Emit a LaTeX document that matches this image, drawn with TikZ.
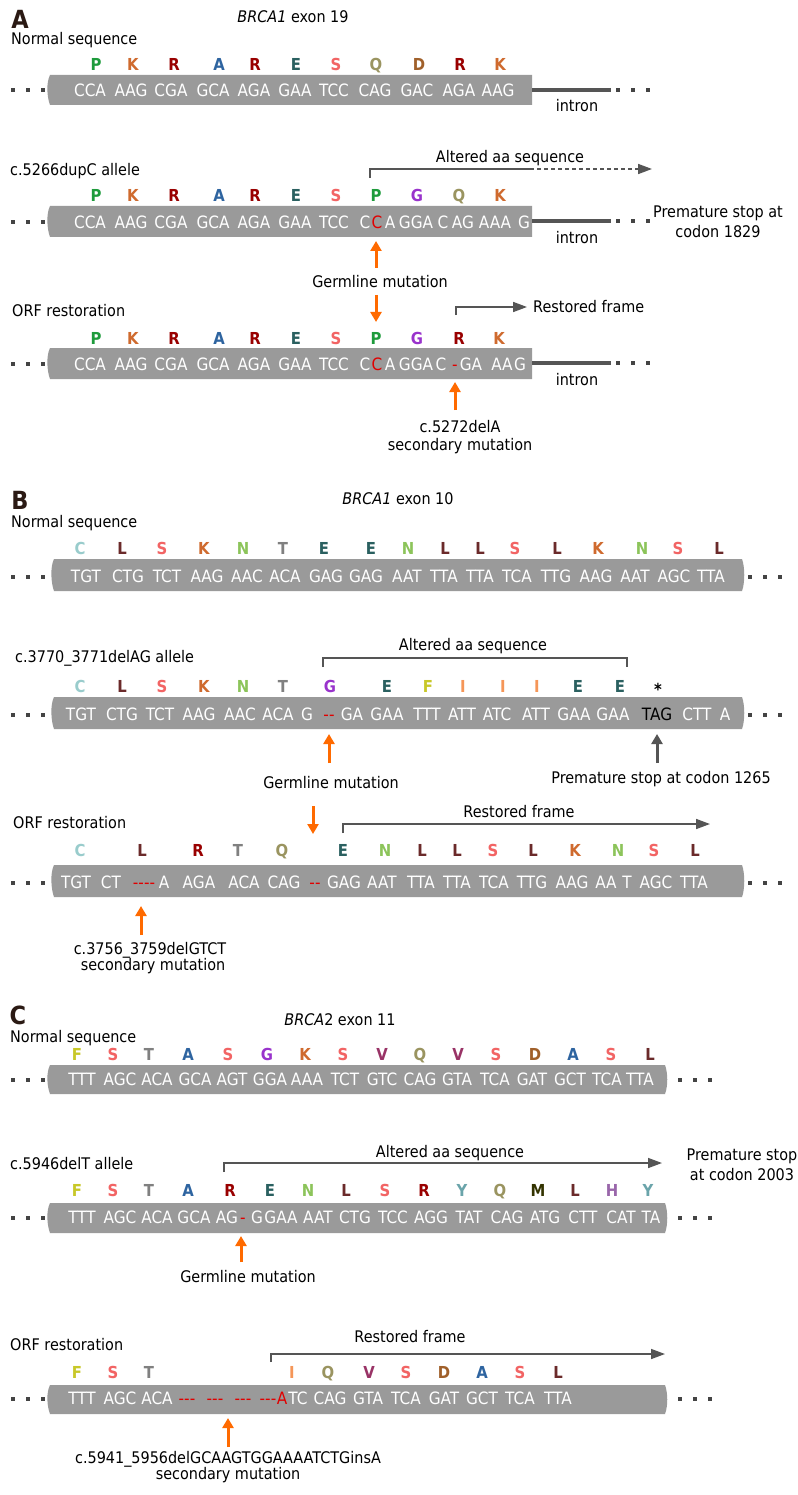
\documentclass[tikz,border=0pt]{standalone}
\usepackage{fontspec}
\setmainfont[FakeStretch=0.9]{DejaVu Sans}
\usetikzlibrary{arrows.meta}
\definecolor{cP}{HTML}{1E9B3C}
\definecolor{cK}{HTML}{CF6A2E}
\definecolor{cR}{HTML}{990000}
\definecolor{cA}{HTML}{2E64A0}
\definecolor{cE}{HTML}{2A6060}
\definecolor{cS}{HTML}{F26464}
\definecolor{cQ}{HTML}{9A9460}
\definecolor{cD}{HTML}{A0602A}
\definecolor{cG}{HTML}{9933CC}
\definecolor{cC}{HTML}{99CCCC}
\definecolor{cL}{HTML}{6B2A2A}
\definecolor{cN}{HTML}{8CC45A}
\definecolor{cT}{HTML}{808080}
\definecolor{cF}{HTML}{C8C828}
\definecolor{cI}{HTML}{F59658}
\definecolor{cV}{HTML}{993366}
\definecolor{cY}{HTML}{6AA4AA}
\definecolor{cM}{HTML}{333300}
\definecolor{cH}{HTML}{9966AA}
\definecolor{barc}{HTML}{9A9A9A}
\definecolor{darkg}{HTML}{555555}
\definecolor{org}{HTML}{FF6A00}
\definecolor{redm}{HTML}{E00000}
\definecolor{lbl}{HTML}{2B1A14}
\newcommand\seqbar[4]{\fill[barc] (#1,#3) -- (#2,#3) -- (#2,#4) -- (#1,#4) .. controls (#1-3,#4-8) and (#1-4,#3+8) .. (#1,#3) -- cycle;}
\newcommand\seqbarw[4]{\fill[barc] (#1,#3) -- (#2,#3) .. controls (#2+3,#3+8) and (#2+3,#4-8) .. (#2,#4) -- (#1,#4) .. controls (#1-3,#4-8) and (#1-4,#3+8) .. (#1,#3) -- cycle;}
\newcommand\tdots[2]{\foreach \d in {0,15,30} {\fill[darkg!80!black] (#1+\d-1.6,#2-1.6) rectangle +(3.2,3.2);}}
\tikzset{
  aalab/.style={font=\bfseries\fontsize{16.5}{16.5}\selectfont, inner sep=0pt, anchor=base, yshift=-6pt},
  cod/.style={text=white, font=\fontsize{17}{17}\selectfont, inner sep=0pt, anchor=base, yshift=-6.2pt},
  codr/.style={cod, text=redm},
  lab/.style={text=black, font=\fontsize{16}{16}\selectfont, inner sep=0pt, anchor=base, yshift=-5.8pt},
  labl/.style={lab, anchor=base west},
  panel/.style={text=lbl, font=\bfseries\fontsize{25}{25}\selectfont, inner sep=0pt},
  intron/.style={darkg, line width=4pt},
  brk/.style={darkg, line width=1.6pt},
  brka/.style={brk, -{Triangle[width=10pt,length=14pt]}},
  oarr/.style={org, line width=3pt, -{Triangle[width=11pt,length=10pt]}},
  garr/.style={darkg, line width=3pt, -{Triangle[width=11pt,length=10pt]}},
}
\begin{document}
\begin{tikzpicture}[x=1pt,y=-1pt]
\useasboundingbox (0,0) rectangle (797,1495);
\fill[white] (0,0) rectangle (797,1495);
%%%%%%%%%%%%%%%% PANEL A
\node[panel] (pA) at (20,19) {A};
\node[lab] (tA) at (293,17) {\textit{BRCA1} exon 19};
% row 1
\node[labl] (nA1) at (11,39) {Normal sequence};
\tdots{13}{90}
\seqbar{50}{532}{75}{105}
\coordinate (iA1s) at (532,90); \coordinate (iA1e) at (611,90);
\draw[intron] (iA1s) -- (iA1e);
\tdots{618}{90}
\node[lab] (inA1) at (577,106) {intron};
\foreach \x/\l [count=\i] in {96/P,133/K,174/R,219/A,255/R,296/E,336/S,376/Q,419/D,460/R,500/K}
  \node[aalab,text=c\l] (aA1\i) at (\x,65) {\l};
\foreach \x/\t [count=\i] in {90/CCA,131/AAG,171/CGA,213/GCA,254/AGA,295/GAA,334/TCC,375/CAG,417/GAC,459/AGA,498/AAG}
  \node[cod] (cA1\i) at (\x,90) {\t};
% row 2
\node[labl] (nA2) at (10,170) {c.5266dupC allele};
\node[lab] (altA) at (510,157) {Altered aa sequence};
\coordinate (bA2a) at (370,178); \coordinate (bA2b) at (370,169); \coordinate (bA2c) at (530,169); \coordinate (bA2d) at (652,169);
\draw[brk] (bA2a) -- (bA2b) -- (bA2c);
\draw[brka, dashed, dash pattern=on 4pt off 3pt] (bA2c) -- (bA2d);
\foreach \x/\l [count=\i] in {96/P,133/K,174/R,219/A,255/R,296/E,336/S,376/P,417/G,459/Q,500/K}
  \node[aalab,text=c\l] (aA2\i) at (\x,196) {\l};
\tdots{13}{222}
\seqbar{50}{532}{206}{237}
\foreach \x/\t [count=\i] in {90/CCA,131/AAG,171/CGA,213/GCA,254/AGA,295/GAA,334/TCC,365/C,390/A,416/GGA,443/C,463/AG,495/AAA,524/G}
  \node[cod] (cA2\i) at (\x,222) {\t};
\node[codr] (cA2r) at (377,222) {C};
\coordinate (iA2s) at (532,221); \coordinate (iA2e) at (611,221);
\draw[intron] (iA2s) -- (iA2e);
\tdots{618}{221}
\node[lab] (inA2) at (577,238) {intron};
\node[lab] (psA1) at (718,212) {Premature stop at};
\node[lab] (psA2) at (718,232) {codon 1829};
\node[lab] (gmA) at (380,282) {Germline mutation};
\coordinate (oA1s) at (376,268); \coordinate (oA1e) at (376,241);
\draw[oarr] (oA1s) -- (oA1e);
% row 3
\coordinate (oA2s) at (376,295); \coordinate (oA2e) at (376,322);
\draw[oarr] (oA2s) -- (oA2e);
\node[labl] (nA3) at (12,311) {ORF restoration};
\coordinate (bA3a) at (456,315); \coordinate (bA3b) at (456,307); \coordinate (bA3c) at (527,307);
\draw[brka] (bA3a) -- (bA3b) -- (bA3c);
\node[labl] (rfA) at (533,307) {Restored frame};
\foreach \x/\l [count=\i] in {96/P,133/K,174/R,219/A,255/R,296/E,336/S,376/P,417/G,459/R,499/K}
  \node[aalab,text=c\l] (aA3\i) at (\x,338) {\l};
\tdots{13}{364}
\seqbar{50}{532}{348}{379}
\foreach \x/\t [count=\i] in {90/CCA,131/AAG,171/CGA,213/GCA,254/AGA,295/GAA,334/TCC,365/C,390/A,416/GGA,441/C,471/GA,502/AA,520/G}
  \node[cod] (cA3\i) at (\x,364) {\t};
\node[codr] (cA3r) at (377,364) {C};
\node[codr] (cA3d) at (455,364) {-};
\coordinate (iA3s) at (532,363); \coordinate (iA3e) at (611,363);
\draw[intron] (iA3s) -- (iA3e);
\tdots{618}{363}
\node[lab] (inA3) at (577,380) {intron};
\coordinate (oA3s) at (455,410); \coordinate (oA3e) at (455,382);
\draw[oarr] (oA3s) -- (oA3e);
\node[lab] (smA1) at (460,427) {c.5272delA};
\node[lab] (smA2) at (460,445) {secondary mutation};
%%%%%%%%%%%%%%%% PANEL B
\node[panel] (pB) at (20,500) {B};
\node[lab] (tB) at (398,499) {\textit{BRCA1} exon 10};
\node[labl] (nB1) at (11,522) {Normal sequence};
\foreach \x/\l [count=\i] in {80/C,122/L,162/S,204/K,243/N,283/T,324/E,371/E,408/N,445/L,480/L,515/S,557/L,598/K,642/N,678/S,719/L}
  \node[aalab,text=c\l] (aB1\i) at (\x,548) {\l};
\tdots{13}{577}
\seqbarw{54}{742}{559}{591}
\tdots{750}{577}
\foreach \x/\t [count=\i] in {86/TGT,128/CTG,167/TCT,207/AAG,247/AAC,285/ACA,326/GAG,366/GAG,407/AAT,444/TTA,480/TTA,517/TCA,556/TTG,596/AAG,635/AAT,674/AGC,711/TTA}
  \node[cod] (cB1\i) at (\x,576) {\t};
% row 2
\node[labl] (nB2) at (15,657) {c.3770\_3771delAG allele};
\node[lab] (altB) at (473,645) {Altered aa sequence};
\coordinate (bB2a) at (323,667); \coordinate (bB2b) at (323,658); \coordinate (bB2c) at (627,658); \coordinate (bB2d) at (627,667);
\draw[brk] (bB2a) -- (bB2b) -- (bB2c) -- (bB2d);
\foreach \x/\l [count=\i] in {80/C,122/L,162/S,204/K,243/N,283/T,330/G,387/E,428/F,463/I,503/I,537/I,578/E,620/E}
  \node[aalab,text=c\l] (aB2\i) at (\x,686) {\l};
\node[aalab,text=black] (aB2s) at (658,689) {*};
\tdots{13}{715}
\seqbarw{54}{742}{697}{729}
\tdots{750}{715}
\foreach \x/\t [count=\i] in {81/TGT,122/CTG,160/TCT,199/AAG,240/AAC,278/ACA,307/G,352/GA,387/GAA,427/TTT,462/ATT,497/ATC,536/ATT,574/GAA,613/GAA,697/CTT,725/A}
  \node[cod] (cB2\i) at (\x,714) {\t};
\node[codr] (cB2r) at (329,714) {-{}-};
\node[cod,text=black] (cB2s) at (657,714) {TAG};
\coordinate (oB1s) at (329,763); \coordinate (oB1e) at (329,734);
\draw[oarr] (oB1s) -- (oB1e);
\node[lab] (gmB) at (331,783) {Germline mutation};
\coordinate (gB1s) at (657,763); \coordinate (gB1e) at (657,734);
\draw[garr] (gB1s) -- (gB1e);
\node[lab] (psB) at (661,778) {Premature stop at codon 1265};
% row 3
\coordinate (oB2s) at (313,806); \coordinate (oB2e) at (313,834);
\draw[oarr] (oB2s) -- (oB2e);
\node[labl] (nB3) at (13,823) {ORF restoration};
\node[lab] (rfB) at (519,812) {Restored frame};
\coordinate (bB3a) at (343,833); \coordinate (bB3b) at (343,824); \coordinate (bB3c) at (710,824);
\draw[brka] (bB3a) -- (bB3b) -- (bB3c);
\foreach \x/\l [count=\i] in {80/C,142/L,198/R,238/T,282/Q,343/E,385/N,422/L,457/L,493/S,533/L,575/K,618/N,654/S,695/L}
  \node[aalab,text=c\l] (aB3\i) at (\x,850) {\l};
\tdots{13}{883}
\seqbarw{54}{742}{865}{897}
\tdots{750}{883}
\foreach \x/\t [count=\i] in {76/TGT,111/CT,164/A,199/AGA,244/ACA,284/CAG,344/GAG,382/AAT,421/TTA,457/TTA,494/TCA,532/TTG,572/AAG,606/AA,627/T,656/AGC,694/TTA}
  \node[cod] (cB3\i) at (\x,882) {\t};
\node[codr] (cB3r1) at (144,882) {-{}-{}-{}-};
\node[codr] (cB3r2) at (315,882) {-{}-};
\coordinate (oB3s) at (141,935); \coordinate (oB3e) at (141,906);
\draw[oarr] (oB3s) -- (oB3e);
\node[lab] (smB1) at (150,949) {c.3756\_3759delGTCT};
\node[lab] (smB2) at (153,965) {secondary mutation};
%%%%%%%%%%%%%%%% PANEL C
\node[panel] (pC) at (18,1015) {C};
\node[lab] (tC) at (340,1020) {\textit{BRCA}2 exon 11};
\node[labl] (nC1) at (10,1037) {Normal sequence};
\foreach \x/\l [count=\i] in {77/F,113/S,149/T,188/A,228/S,267/G,305/K,343/S,382/V,420/Q,458/V,496/S,535/D,573/A,611/S,650/L}
  \node[aalab,text=c\l] (aC1\i) at (\x,1054) {\l};
\tdots{13}{1080}
\seqbarw{50}{665}{1065}{1094}
\tdots{680}{1080}
\foreach \x/\t [count=\i] in {82/TTT,120/AGC,157/ACA,195/GCA,232/AGT,270/GGA,307/AAA,345/TCT,382/GTC,420/CAG,457/GTA,495/TCA,532/GAT,570/GCT,607/TCA,640/TTA}
  \node[cod] (cC1\i) at (\x,1079) {\t};
% row 2
\node[labl] (nC2) at (10,1164) {c.5946delT allele};
\node[lab] (altC) at (450,1152) {Altered aa sequence};
\coordinate (bC2a) at (224,1172); \coordinate (bC2b) at (224,1163); \coordinate (bC2c) at (662,1163);
\draw[brka] (bC2a) -- (bC2b) -- (bC2c);
\node[lab] (psC1) at (742,1155) {Premature stop};
\node[lab] (psC2) at (742,1175) {at codon 2003};
\foreach \x/\l [count=\i] in {77/F,113/S,149/T,188/A,230/R,270/E,308/N,346/L,385/S,424/R,462/Y,500/Q,538/M,575/L,612/H,648/Y}
  \node[aalab,text=c\l] (aC2\i) at (\x,1190) {\l};
\tdots{13}{1218}
\seqbarw{50}{665}{1203}{1233}
\tdots{680}{1218}
\foreach \x/\t [count=\i] in {82/TTT,120/AGC,157/ACA,194/GCA,227/AG,257/G,281/GAA,318/AAT,355/CTG,393/TCC,431/AGG,469/TAT,507/CAG,545/ATG,583/CTT,621/CAT,651/TA}
  \node[cod] (cC2\i) at (\x,1217) {\t};
\node[codr] (cC2r) at (243,1217) {-};
\coordinate (oC1s) at (241,1262); \coordinate (oC1e) at (241,1236);
\draw[oarr] (oC1s) -- (oC1e);
\node[lab] (gmC) at (248,1277) {Germline mutation};
% row 3
\node[labl] (nC3) at (10,1345) {ORF restoration};
\node[lab] (rfC) at (410,1337) {Restored frame};
\coordinate (bC3a) at (271,1362); \coordinate (bC3b) at (271,1354); \coordinate (bC3c) at (665,1354);
\draw[brka] (bC3a) -- (bC3b) -- (bC3c);
\foreach \x/\l [count=\i] in {77/F,113/S,149/T,292/I,328/Q,369/V,406/S,444/D,482/A,520/S,558/L}
  \node[aalab,text=c\l] (aC3\i) at (\x,1372) {\l};
\tdots{13}{1399}
\seqbarw{50}{665}{1385}{1414}
\tdots{680}{1399}
\foreach \x/\t [count=\i] in {82/TTT,120/AGC,157/ACA,298/TC,330/CAG,368/GTA,406/TCA,444/GAT,482/GCT,520/TCA,558/TTA}
  \node[cod] (cC3\i) at (\x,1398) {\t};
\foreach \x [count=\i] in {187,215,243,268}
  \node[codr] (cC3d\i) at (\x,1398) {-{}-{}-};
\node[codr] (cC3r) at (282,1398) {A};
\coordinate (oC2s) at (228,1447); \coordinate (oC2e) at (228,1418);
\draw[oarr] (oC2s) -- (oC2e);
\node[lab] (smC1) at (228,1458) {c.5941\_5956delGCAAGTGGAAAATCTGinsA};
\node[lab] (smC2) at (228,1474) {secondary mutation};
\end{tikzpicture}
\end{document}
